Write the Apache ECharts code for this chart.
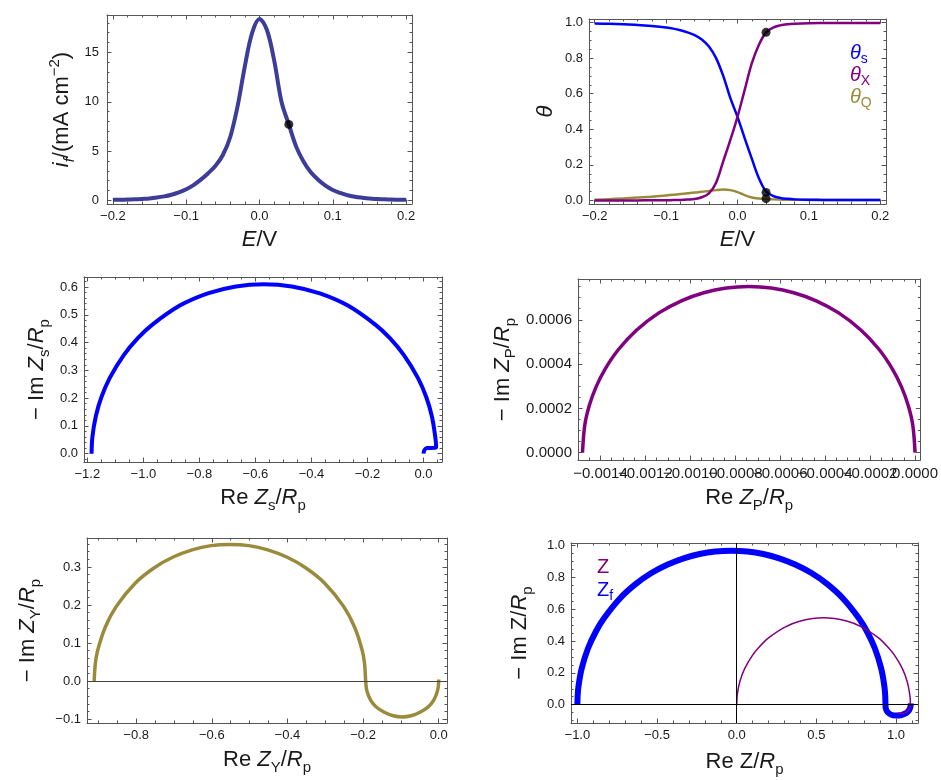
<!DOCTYPE html>
<html><head><meta charset="utf-8">
<script src="https://cdn.jsdelivr.net/npm/echarts/dist/echarts.min.js"></script>
<style>html,body{margin:0;padding:0;background:#fff}#c{width:941px;height:780px}</style>
</head><body><div id="c"></div>
<script>
// ---------------- DATA ----------------
// Panel 1: faradaic current vs potential
const p1E = [-0.20,-0.19,-0.18,-0.17,-0.16,-0.15,-0.14,-0.13,-0.12,-0.11,-0.10,-0.09,-0.08,-0.07,-0.06,-0.05,-0.04,-0.03,-0.02,-0.01,0.00,0.01,0.02,0.03,0.04,0.05,0.06,0.07,0.08,0.09,0.10,0.11,0.12,0.13,0.14,0.15,0.16,0.17,0.18,0.19,0.20];
const p1I = [0.05,0.06,0.08,0.10,0.14,0.19,0.28,0.40,0.57,0.80,1.12,1.55,2.10,2.75,3.5,4.6,6.4,9.5,13.6,17.0,18.4,17.3,14.2,10.0,7.7,5.45,3.95,2.85,2.1,1.5,1.05,0.75,0.52,0.37,0.27,0.19,0.14,0.10,0.08,0.06,0.05];
const p1DotE = [0.04];
const p1DotI = [7.7];

// Panel 2: coverages vs potential
const p2E = [-0.2,-0.18,-0.16,-0.14,-0.12,-0.1,-0.09,-0.08,-0.07,-0.06,-0.05,-0.04,-0.03,-0.02,-0.01,0,0.01,0.02,0.03,0.04,0.05,0.06,0.07,0.08,0.1,0.12,0.15,0.2];
const thetaS = [0.995,0.993,0.990,0.986,0.980,0.972,0.966,0.957,0.945,0.93,0.905,0.865,0.80,0.70,0.575,0.47,0.35,0.235,0.125,0.05,0.025,0.014,0.009,0.006,0.004,0.003,0.002,0.002];
const thetaX = [0.0,0.0,0.0,0.0,0.001,0.001,0.002,0.003,0.005,0.008,0.018,0.04,0.1,0.22,0.34,0.47,0.62,0.77,0.875,0.945,0.972,0.984,0.99,0.993,0.996,0.997,0.998,0.998];
const thetaQ = [0.004,0.007,0.011,0.016,0.021,0.028,0.032,0.036,0.04,0.044,0.049,0.053,0.058,0.061,0.058,0.047,0.03,0.017,0.011,0.008,0.006,0.005,0.004,0.004,0.003,0.003,0.003,0.003];
const p2DotE = [0.04, 0.04, 0.04];
const p2DotTheta = [0.945, 0.045, 0.01];

// Panel 3: Z_s
const zsRe = [-1.185,-1.182,-1.17,-1.15,-1.12,-1.07,-1.02,-0.97,-0.87,-0.77,-0.67,-0.57,-0.47,-0.37,-0.27,-0.17,-0.12,-0.07,-0.02,0.01,0.03,0.042,0.045,0.04,0.012,0.003,0.0];
const zsIm = [0,0.06,0.134,0.203,0.273,0.355,0.416,0.463,0.533,0.577,0.602,0.61,0.602,0.577,0.533,0.463,0.416,0.355,0.273,0.203,0.134,0.06,0.025,0.021,0.02,0.012,0.0];

// Panel 4: Z_P
const zpRe = [-0.00148,-0.00147,-0.00145,-0.00142,-0.00138,-0.00132,-0.00124,-0.00114,-0.00104,-0.00094,-0.00084,-0.00074,-0.00064,-0.00054,-0.00044,-0.00034,-0.00024,-0.00016,-0.0001,-0.00006,-0.00003,-0.00001,0];
const zpIm = [0,0.0001229,0.0002114,0.0002958,0.0003765,0.0004658,0.0005529,0.000631,0.0006856,0.0007221,0.0007431,0.00075,0.0007431,0.0007221,0.0006856,0.000631,0.0005529,0.0004658,0.0003765,0.0002958,0.0002114,0.0001229,0];

// Panel 5: Z_Y
const zyRe = [-0.911,-0.908,-0.902,-0.882,-0.852,-0.802,-0.752,-0.702,-0.652,-0.602,-0.552,-0.502,-0.452,-0.402,-0.352,-0.302,-0.252,-0.222,-0.202,-0.196,-0.193,-0.19,-0.18,-0.165,-0.145,-0.12,-0.0965,-0.073,-0.048,-0.028,-0.013,-0.003,0.0,0.0];
const zyIm = [0,0.046,0.08,0.141,0.197,0.258,0.298,0.326,0.345,0.356,0.359,0.356,0.345,0.326,0.298,0.258,0.197,0.141,0.08,0.046,0,-0.025,-0.05,-0.068,-0.081,-0.091,-0.094,-0.091,-0.081,-0.068,-0.05,-0.025,0,0.004];

// Panel 6: Z_f and Z
const zfRe = [-1.0,-0.998,-0.993,-0.973,-0.933,-0.883,-0.833,-0.733,-0.633,-0.533,-0.433,-0.333,-0.233,-0.133,-0.033,0.067,0.167,0.267,0.367,0.467,0.567,0.667,0.767,0.817,0.867,0.907,0.927,0.932,0.934,0.936,0.948,0.97,1.0,1.03,1.06,1.08,1.09,1.093];
const zfIm = [0,0.06,0.116,0.227,0.354,0.461,0.543,0.667,0.758,0.828,0.88,0.919,0.946,0.962,0.967,0.962,0.946,0.919,0.88,0.828,0.758,0.667,0.543,0.461,0.354,0.227,0.116,0.06,0.0,-0.025,-0.048,-0.063,-0.068,-0.066,-0.055,-0.037,-0.015,0.008];
const zRe = [0,0.005,0.02,0.05,0.1,0.15,0.2,0.3,0.4,0.545,0.69,0.79,0.89,0.94,0.99,1.04,1.07,1.085,1.09,1.088,1.078,1.058,1.033,1.01];
const zIm = [0.0,0.073,0.146,0.226,0.311,0.371,0.419,0.485,0.525,0.545,0.525,0.485,0.419,0.371,0.311,0.226,0.146,0.073,0.02,-0.01,-0.035,-0.05,-0.056,-0.052];

// Tick values
const p1XTicks = [-0.2,-0.1,0,0.1,0.2];
const p1YTicks = [0,5,10,15];
const p2XTicks = [-0.2,-0.1,0,0.1,0.2];
const p2YTicks = [0,0.2,0.4,0.6,0.8,1.0];
const p3XTicks = [-1.2,-1.0,-0.8,-0.6,-0.4,-0.2,0];
const p3YTicks = [0,0.1,0.2,0.3,0.4,0.5,0.6];
const p4XTicks = [-0.0014,-0.0012,-0.001,-0.0008,-0.0006,-0.0004,-0.0002,0];
const p4YTicks = [0,0.0002,0.0004,0.0006];
const p5XTicks = [-0.8,-0.6,-0.4,-0.2,0];
const p5YTicks = [-0.1,0,0.1,0.2,0.3];
const p6XTicks = [-1.0,-0.5,0,0.5,1.0];
const p6YTicks = [0,0.2,0.4,0.6,0.8,1.0];

// ---------------- STYLE / BUILD ----------------
const FONT = '"Liberation Sans", Arial, Helvetica, sans-serif';
const TXT = '#1a1a1a';
const FRAME = '#555555';
const BLUE = '#0000ff', PURPLE = '#800080', OLIVE = '#9a8a3c', SLATE = '#3d3d99';
const MAJ = 4.5, MIN = 2.5;
const NFS = 22, NLH = 30, SFS = 15;

const richName = {
  it: {fontStyle:'italic', fontSize:NFS, lineHeight:NLH, fontFamily:FONT, color:TXT},
  sub: {fontSize:SFS, lineHeight:SFS, verticalAlign:'bottom', fontFamily:FONT, color:TXT},
  subit: {fontSize:SFS, lineHeight:SFS, verticalAlign:'bottom', fontStyle:'italic', fontFamily:FONT, color:TXT},
  sup: {fontSize:SFS, lineHeight:SFS, verticalAlign:'top', fontFamily:FONT, color:TXT}
};

function zip(a, b) { return a.map((v, i) => [v, b[i]]); }
function minorTicks(lo, hi, step, majors) {
  const out = [];
  const start = Math.ceil(lo / step - 1e-9);
  for (let k = start; k * step <= hi + 1e-12; k++) {
    const v = +(k * step).toPrecision(10);
    if (!majors.some(m => Math.abs(m - v) < step * 1e-3)) out.push(v);
  }
  return out;
}
function fmt(v, dec) {
  let s = (Math.abs(v) < 1e-12 ? 0 : v).toFixed(dec);
  return s.replace('-', '\u2212');
}

const grids = [], xAxes = [], yAxes = [], series = [];

function labelStyle(values, opt) {
  return {show:true, customValues:values, fontSize:opt.fs || 13, color:TXT, fontFamily:FONT,
    margin:opt.margin || 6, showMinLabel:true, showMaxLabel:true, hideOverlap:false, interval:0,
    formatter:(v) => fmt(v, opt.dec)};
}

function axis(gi, range, pos, ticks, len, opt) {
  opt = opt || {};
  const a = {
    type:'value', gridIndex:gi, min:range[0], max:range[1], position:pos,
    axisLine:{show:opt.line !== false, onZero:false, lineStyle:{color:FRAME, width:1}},
    axisTick:{show:true, inside:true, length:len, customValues:ticks, lineStyle:{color:FRAME, width:1}},
    axisLabel:{show:false},
    splitLine:{show:false}, minorTick:{show:false}, minorSplitLine:{show:false}
  };
  if (opt.labelValues) a.axisLabel = labelStyle(opt.labelValues, opt);
  if (opt.name) {
    a.name = opt.name; a.nameLocation = 'middle'; a.nameGap = opt.gap;
    a.nameTextStyle = {fontSize:NFS, lineHeight:NLH, color:TXT, fontFamily:FONT, rich:richName};
  }
  return a;
}

function panel(p) {
  const gi = grids.length;
  grids.push({left:p.grid[0], top:p.grid[1], width:p.grid[2], height:p.grid[3], show:false});
  const xi = xAxes.length, yi = yAxes.length;
  const xMin = minorTicks(p.x[0], p.x[1], p.xStep, p.xTicks);
  const yMin = minorTicks(p.y[0], p.y[1], p.yStep, p.yTicks);
  // alternate x labels between two axes when they are dense (so every label is drawn, overlapping as in the original)
  const xLabA = p.altX ? p.xTicks.filter((v, i) => i % 2 === 0) : p.xTicks;
  const xLabB = p.altX ? p.xTicks.filter((v, i) => i % 2 === 1) : null;
  const xo = {dec:p.xDec, margin:p.xMargin, fs:p.fs};
  const yo = {dec:p.yDec, margin:p.yMargin, fs:p.fs};
  xAxes.push(axis(gi, p.x, 'bottom', p.xTicks, MAJ, Object.assign({labelValues:xLabA, name:p.xName, gap:p.xGap}, xo)));
  xAxes.push(axis(gi, p.x, 'top', p.xTicks, MAJ));
  xAxes.push(axis(gi, p.x, 'bottom', xMin, MIN, Object.assign({line:false, labelValues:xLabB}, xo)));
  xAxes.push(axis(gi, p.x, 'top', xMin, MIN, {line:false}));
  yAxes.push(axis(gi, p.y, 'left', p.yTicks, MAJ, Object.assign({labelValues:p.yTicks, name:p.yName, gap:p.yGap}, yo)));
  yAxes.push(axis(gi, p.y, 'right', p.yTicks, MAJ));
  yAxes.push(axis(gi, p.y, 'left', yMin, MIN, {line:false}));
  yAxes.push(axis(gi, p.y, 'right', yMin, MIN, {line:false}));
  return {xAxisIndex:xi, yAxisIndex:yi};
}

function curve(ax, data, color, width, z) {
  series.push(Object.assign({type:'line', data, showSymbol:false, symbol:'none', smooth:0.35,
    lineStyle:{color, width, cap:'butt', join:'round'}, z:z || 3, silent:true, animation:false}, ax));
}
function dots(ax, data) {
  series.push(Object.assign({type:'scatter', data, symbol:'circle', symbolSize:9,
    itemStyle:{color:'#000'}, z:10, silent:true, animation:false}, ax));
}
function zeroLines(ax, items, color) {
  series.push(Object.assign({type:'line', data:[], z:1, silent:true, animation:false,
    markLine:{silent:true, symbol:['none','none'], label:{show:false}, animation:false,
      lineStyle:{color, width:1, type:'solid'}, emphasis:{disabled:true}, data:items}}, ax));
}

// Panel 1
const a1 = panel({grid:[107,15,305,189], x:[-0.208,0.208], y:[-0.37,18.8],
  xTicks:p1XTicks, xStep:0.02, xDec:1, yTicks:p1YTicks, yStep:1, yDec:0,
  xName:'{it|E}/V', xGap:21, yName:'{it|i}{subit|f}/(mA cm{sup|\u22122})', yGap:30, yMargin:8});
curve(a1, zip(p1E, p1I), SLATE, 4);
dots(a1, zip(p1DotE, p1DotI));

// Panel 2
const a2 = panel({grid:[589,19,297,185], x:[-0.208,0.208], y:[-0.02,1.02],
  xTicks:p2XTicks, xStep:0.02, xDec:1, yTicks:p2YTicks, yStep:0.05, yDec:1,
  xName:'{it|E}/V', xGap:21, yName:'{it|\u03b8}', yGap:28});
curve(a2, zip(p2E, thetaQ), OLIVE, 2.5, 3);
curve(a2, zip(p2E, thetaS), BLUE, 2.5, 4);
curve(a2, zip(p2E, thetaX), PURPLE, 2.5, 5);
dots(a2, zip(p2DotE, p2DotTheta));

// Panel 3
const a3 = panel({grid:[84,277,358,185], x:[-1.212,0.066], y:[-0.03,0.636],
  xTicks:p3XTicks, xStep:0.05, xDec:1, yTicks:p3YTicks, yStep:0.02, yDec:1,
  xName:'Re {it|Z}{sub|s}/{it|R}{sub|p}', xGap:21, yName:'\u2212 Im {it|Z}{sub|s}/{it|R}{sub|p}', yGap:32});
curve(a3, zip(zsRe, zsIm), BLUE, 4);

// Panel 4
const a4 = panel({grid:[578,279,343,181], x:[-0.0015,0.0000237], y:[-0.000033,0.000784], fs:15, altX:true,
  xTicks:p4XTicks, xStep:0.00005, xDec:4, yTicks:p4YTicks, yStep:0.00005, yDec:4,
  xName:'Re {it|Z}{sub|P}/{it|R}{sub|p}', xGap:23, yName:'\u2212 Im {it|Z}{sub|P}/{it|R}{sub|p}', yGap:60});
curve(a4, zip(zpRe, zpIm), PURPLE, 3.5);

// Panel 5
const a5 = panel({grid:[87,538,360,185], x:[-0.93,0.022], y:[-0.11,0.376],
  xTicks:p5XTicks, xStep:0.05, xDec:1, yTicks:p5YTicks, yStep:0.02, yDec:1,
  xName:'Re {it|Z}{sub|Y}/{it|R}{sub|p}', xGap:22, yName:'\u2212 Im {it|Z}{sub|Y}/{it|R}{sub|p}', yGap:44});
zeroLines(a5, [{yAxis:0}], '#444');
curve(a5, zip(zyRe, zyIm), OLIVE, 3.5);

// Panel 6
const a6 = panel({grid:[571,543,347,180], x:[-1.04,1.138], y:[-0.115,1.015],
  xTicks:p6XTicks, xStep:0.1, xDec:1, yTicks:p6YTicks, yStep:0.05, yDec:1,
  xName:'Re Z/{it|R}{sub|p}', xGap:24, yName:'\u2212 Im Z/{it|R}{sub|p}', yGap:36});
zeroLines(a6, [{yAxis:0}, {xAxis:0}], '#000');
curve(a6, zip(zfRe, zfIm), BLUE, 6, 3);
curve(a6, zip(zRe, zIm), PURPLE, 1.5, 4);

// Legends (coloured text labels)
function legendText(x, y, text, color) {
  return {type:'text', x, y, z:20, silent:true, style:{text, fill:color, font:'20px ' + FONT, verticalAlign:'middle',
    rich:{
      it:{fontStyle:'italic', fontSize:20, lineHeight:27, fill:color, fontFamily:FONT},
      n:{fontSize:20, lineHeight:27, fill:color, fontFamily:FONT},
      sub:{fontSize:14, lineHeight:14, verticalAlign:'bottom', fill:color, fontFamily:FONT}
    }}};
}
const graphics = [
  legendText(850, 53, '{it|\u03b8}{sub|s}', BLUE),
  legendText(850, 75, '{it|\u03b8}{sub|X}', PURPLE),
  legendText(850, 97, '{it|\u03b8}{sub|Q}', OLIVE),
  legendText(597, 567, '{n|Z}', PURPLE),
  legendText(597, 590, '{n|Z}{sub|f}', BLUE)
];

const chart = echarts.init(document.getElementById('c'), null, {renderer:'canvas'});
chart.setOption({
  animation:false,
  backgroundColor:'#ffffff',
  textStyle:{fontFamily:FONT},
  grid:grids, xAxis:xAxes, yAxis:yAxes, series, graphic:graphics
});
</script></body></html>
